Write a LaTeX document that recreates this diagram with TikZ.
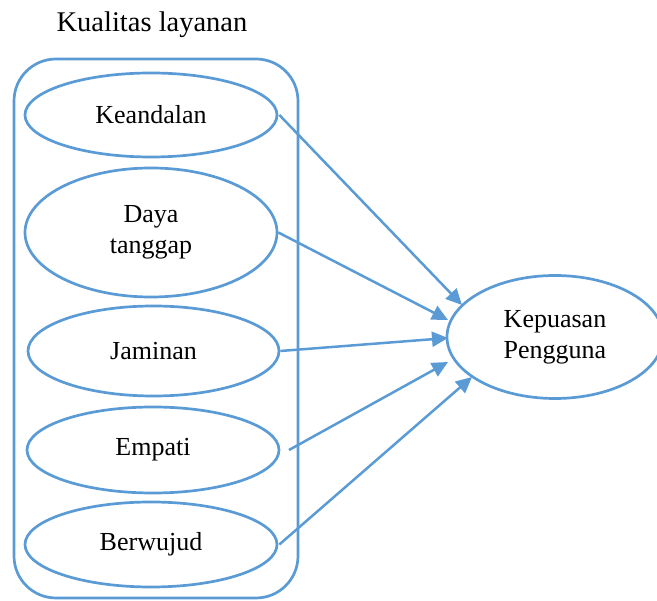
\documentclass[tikz,border=0pt]{standalone}
\usepackage{fontspec}
\setmainfont{Liberation Serif}
\usetikzlibrary{shapes.geometric,arrows.meta}
\definecolor{lineblue}{RGB}{91,155,213}
\begin{document}
\begin{tikzpicture}[x=1pt,y=-1pt,
  oval/.style={draw=lineblue,line width=2.7pt,ellipse,inner sep=0pt,align=center,
    font=\fontsize{26}{31}\selectfont},
  conn/.style={draw=lineblue,line width=2.5pt,-{Triangle[length=16pt,width=15pt]}}]
\useasboundingbox (0,0) rectangle (657,601);
\node[font=\fontsize{28.5}{32}\selectfont] (title) at (152,25) {Kualitas layanan};
\node[draw=lineblue,line width=2.7pt,rounded corners=42pt,minimum width=284pt,minimum height=539pt,inner sep=0pt] (box) at (156,328.5) {};
\node[oval,minimum width=252pt,minimum height=84pt] (keand) at (151,115) {Keandalan};
\node[oval,minimum width=252pt,minimum height=129pt] (daya) at (151,232.5) {Daya\\tanggap};
\node[oval,minimum width=251pt,minimum height=90pt] (jam) at (153.5,351) {Jaminan};
\node[oval,minimum width=252pt,minimum height=86pt] (emp) at (153,450) {Empati};
\node[oval,minimum width=252pt,minimum height=85pt] (ber) at (151,544.5) {Berwujud};
\node[oval,minimum width=216pt,minimum height=123pt] (kep) at (555,337) {Kepuasan\\Pengguna};
\coordinate (s4) at (289,450);
\coordinate (t1) at (462,305);
\coordinate (t2) at (448,320);
\coordinate (t3) at (448,338);
\coordinate (t4) at (448,362);
\coordinate (t5) at (472,377);
\draw[conn] ([xshift=1pt]keand.east) -- (t1);
\draw[conn] (daya.east) -- (t2);
\draw[conn] (jam.east) -- (t3);
\draw[conn] (s4) -- (t4);
\draw[conn] ([xshift=1pt]ber.east) -- (t5);
\end{tikzpicture}
\end{document}
